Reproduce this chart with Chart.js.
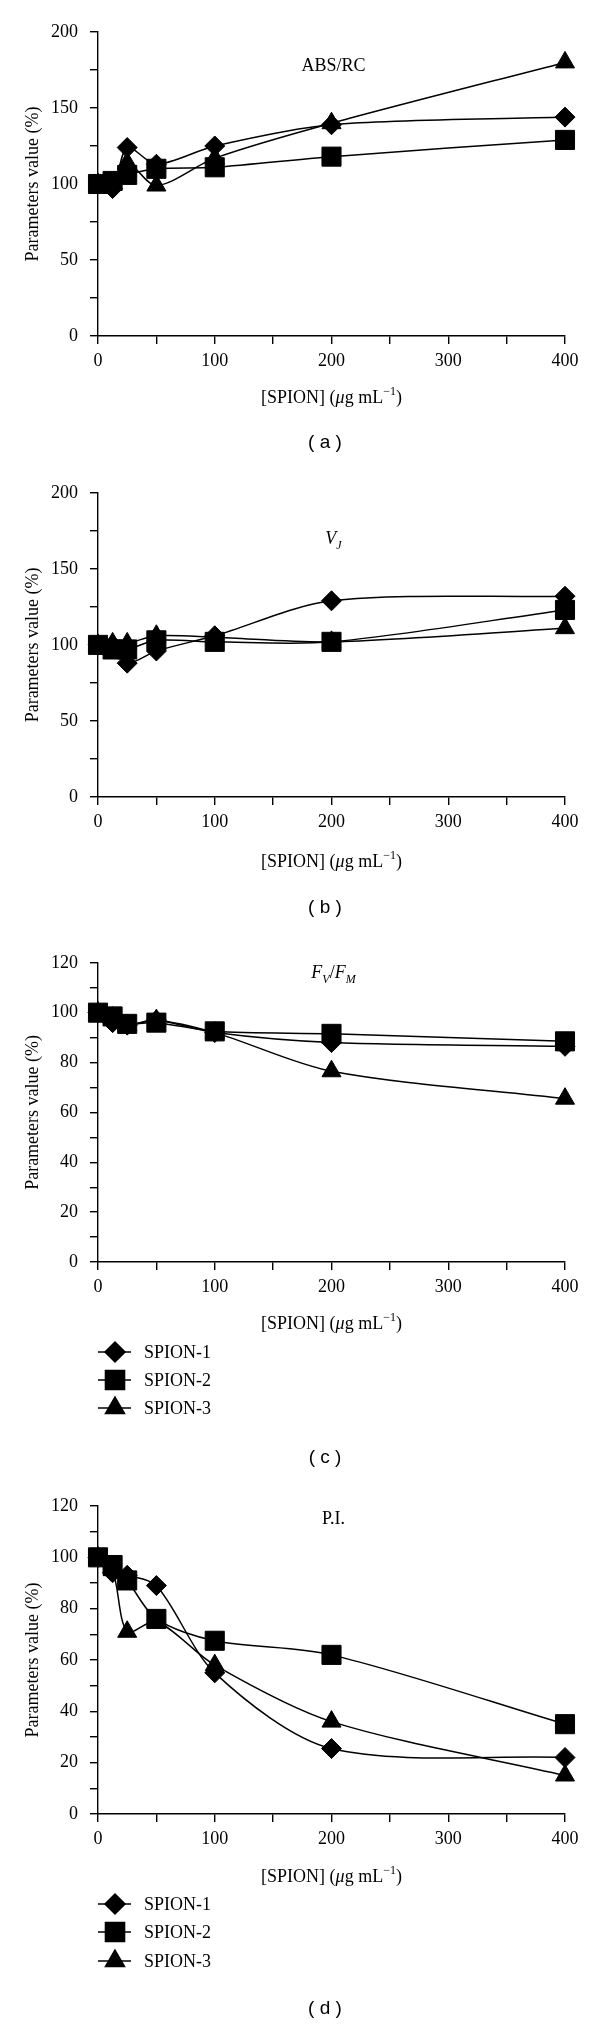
<!DOCTYPE html>
<html>
<head>
<meta charset="utf-8">
<script src="https://cdn.jsdelivr.net/npm/chart.js@4.4.0/dist/chart.umd.min.js"></script>
<style>
  body { margin: 0; background: #fff; }
  #wrap { position: relative; width: 600px; height: 2024px; background: #fff; }
  canvas { position: absolute; left: 0; }
</style>
</head>
<body>
<div id="wrap"></div>
<script>
// SPION concentration (ug/mL)
const conc = [0, 12.5, 25, 50, 100, 200, 400];
const seriesNames = ['SPION-1', 'SPION-2', 'SPION-3'];

// (a) ABS/RC
const absRc1 = [100, 97, 124, 113, 125, 139, 144];
const absRc2 = [100, 102, 106, 110, 111, 118, 129];
const absRc3 = [100, 100, 114, 99, 117, 140, 180];
// (b) VJ
const vj1 = [100, 100, 88, 96, 106, 129, 132];
const vj2 = [100, 97, 97, 103, 102, 102, 123];
const vj3 = [100, 101, 101, 106, 105, 102, 111];
// (c) FV/FM
const fvfm1 = [100, 96, 95, 97, 92, 88, 86.5];
const fvfm2 = [100, 98.5, 95.5, 96, 92.5, 91.5, 88.5];
const fvfm3 = [100, 98, 95, 97, 92, 76.5, 65.5];
// (d) P.I.
const pi1 = [100, 94, 93, 89, 55, 25.5, 22];
const pi2 = [100, 97, 91, 76, 67.5, 62, 35];
const pi3 = [100, 95, 71, 75, 58, 36, 15];

const markerStyles = ['rectRot', 'rect', 'triangle'];
const markerRadius = [10, 13.5, 11];
const drawOrder = [1, 0, 2];   // squares on top

const SERIF = '"Liberation Serif", "Times New Roman", serif';
const SANS = '"Liberation Sans", Arial, sans-serif';

const xTitle = [{t: '[SPION] ('}, {t: 'μ', it: true}, {t: 'g mL'}, {t: '−1', sup: true}, {t: ')'}];

const panels = [
  { top: 0, h: 470, plotTop: 32, plotBottom: 336, yMax: 200, yStep: 25, yLab: 50,
    series: [absRc1, absRc2, absRc3], title: [{t: 'ABS/RC'}], titleY: 65,
    xTitleY: 397, letter: '( a )', letterY: 443 },
  { top: 470, h: 470, plotTop: 491, plotBottom: 797, yMax: 200, yStep: 25, yLab: 50,
    series: [vj1, vj2, vj3], title: [{t: 'V', it: true}, {t: 'J', it: true, sub: true}], titleY: 538,
    xTitleY: 861, letter: '( b )', letterY: 908 },
  { top: 940, h: 540, plotTop: 953, plotBottom: 1262, yMax: 120, yStep: 10, yLab: 20,
    series: [fvfm1, fvfm2, fvfm3],
    title: [{t: 'F', it: true}, {t: 'V', it: true, sub: true}, {t: '/'}, {t: 'F', it: true}, {t: 'M', it: true, sub: true}],
    titleY: 972, xTitleY: 1323, legendY: [1352, 1380, 1408], letter: '( c )', letterY: 1458 },
  { top: 1480, h: 544, plotTop: 1506, plotBottom: 1814, yMax: 120, yStep: 10, yLab: 20,
    series: [pi1, pi2, pi3], title: [{t: 'P.I.'}], titleY: 1518,
    xTitleY: 1876, legendY: [1904, 1932, 1961], letter: '( d )', letterY: 2009 }
];

function fontOf(pt, size) {
  const s = (pt.sup || pt.sub) ? Math.round(size * 0.68) : size;
  return (pt.it ? 'italic ' : '') + s + 'px ' + SERIF;
}

// draw a line of mixed text (italic / sub / superscript) centred on cx
function drawRich(ctx, parts, cx, cy, size) {
  let w = 0;
  parts.forEach(pt => { ctx.font = fontOf(pt, size); pt.w = ctx.measureText(pt.t).width; w += pt.w; });
  let x = cx - w / 2;
  const base = cy + size * 0.33;
  ctx.textAlign = 'left';
  ctx.textBaseline = 'alphabetic';
  parts.forEach(pt => {
    ctx.font = fontOf(pt, size);
    const dy = pt.sup ? -size * 0.42 : (pt.sub ? size * 0.3 : 0);
    ctx.fillText(pt.t, x, base + dy);
    x += pt.w;
  });
}

function decor(p) {
  return {
    id: 'decor',
    afterDraw(chart) {
      const ctx = chart.ctx;
      const area = chart.chartArea;
      const cx = (area.left + area.right) / 2;
      ctx.save();
      ctx.fillStyle = '#000';
      // y axis title
      ctx.save();
      ctx.translate(33, (area.top + area.bottom) / 2);
      ctx.rotate(-Math.PI / 2);
      ctx.font = '18px ' + SERIF;
      ctx.textAlign = 'center';
      ctx.textBaseline = 'middle';
      ctx.fillText('Parameters value (%)', 0, 0);
      ctx.restore();
      // x axis title
      drawRich(ctx, xTitle, cx, p.xTitleY - p.top, 18);
      // parameter name inside plot
      drawRich(ctx, p.title, cx + 2, p.titleY - p.top, 18);
      // panel letter
      ctx.font = '19px ' + SANS;
      ctx.textAlign = 'center';
      ctx.textBaseline = 'middle';
      ctx.fillText(p.letter, 325, p.letterY - p.top);
      // legend
      if (p.legendY) {
        p.legendY.forEach((ly, i) => {
          const y = ly - p.top;
          ctx.strokeStyle = '#000';
          ctx.lineWidth = 1.5;
          ctx.beginPath();
          ctx.moveTo(98, y);
          ctx.lineTo(131, y);
          ctx.stroke();
          ctx.fillStyle = '#000';
          Chart.helpers.drawPoint(ctx, {pointStyle: markerStyles[i], radius: markerRadius[i], rotation: 0, borderWidth: 1}, 115, y);
          ctx.font = '18px ' + SERIF;
          ctx.textAlign = 'left';
          ctx.textBaseline = 'middle';
          ctx.fillText(seriesNames[i], 144, y + 1);
        });
      }
      ctx.restore();
    }
  };
}

function makePanel(p) {
  const cv = document.createElement('canvas');
  cv.width = 600;
  cv.height = p.h;
  cv.style.top = p.top + 'px';
  document.getElementById('wrap').appendChild(cv);

  const datasets = p.series.map((vals, i) => ({
    label: seriesNames[i],
    data: conc.map((c, j) => ({x: c, y: vals[j]})),
    borderColor: '#000',
    backgroundColor: '#000',
    borderWidth: 1.5,
    pointStyle: markerStyles[i],
    pointRadius: markerRadius[i],
    pointHoverRadius: markerRadius[i],
    pointBackgroundColor: '#000',
    pointBorderColor: '#000',
    pointBorderWidth: 1,
    tension: 0.3,
    clip: false,
    order: drawOrder[i]
  }));

  const tickFont = {family: SERIF, size: 18};

  new Chart(cv, {
    type: 'line',
    data: {datasets},
    options: {
      responsive: false,
      animation: false,
      devicePixelRatio: 1,
      layout: {padding: {top: p.plotTop - p.top, right: 35, left: 0, bottom: 0}},
      plugins: {legend: {display: false}, tooltip: {enabled: false}, title: {display: false}},
      scales: {
        x: {
          type: 'linear', min: 0, max: 400,
          ticks: {stepSize: 50, autoSkip: false, maxRotation: 0, color: '#000', font: tickFont, padding: 6,
                  callback: v => (v % 100 === 0 ? v : '')},
          grid: {drawOnChartArea: false, drawTicks: true, tickLength: 8, color: '#000', lineWidth: 1.4},
          border: {color: '#000', width: 1.4},
          afterFit: s => { s.height = p.top + p.h - p.plotBottom; }
        },
        y: {
          type: 'linear', min: 0, max: p.yMax,
          ticks: {stepSize: p.yStep, autoSkip: false, color: '#000', font: tickFont, padding: 12,
                  callback: v => (v % p.yLab === 0 ? v : '')},
          grid: {drawOnChartArea: false, drawTicks: true, tickLength: 8, color: '#000', lineWidth: 1.4},
          border: {color: '#000', width: 1.4},
          afterFit: s => { s.width = 98; }
        }
      }
    },
    plugins: [decor(p)]
  });
}

panels.forEach(makePanel);
</script>
</body>
</html>
